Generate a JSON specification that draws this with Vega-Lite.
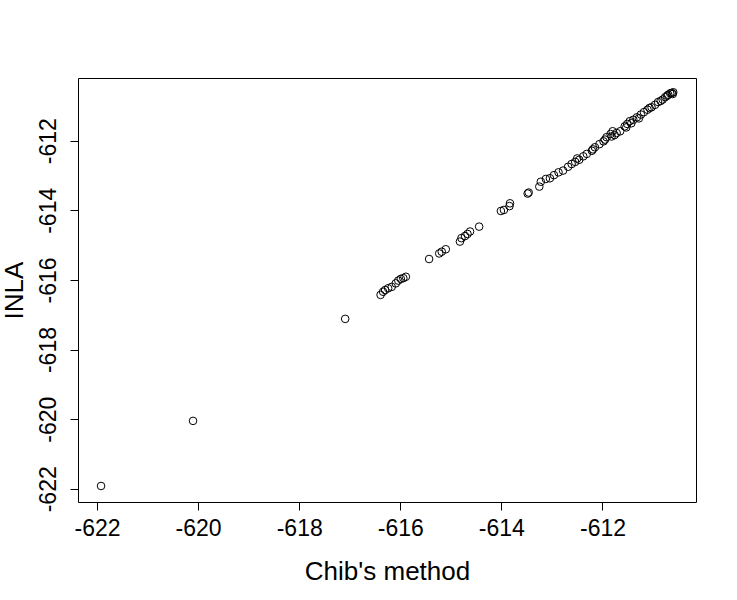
{
  "$schema": "https://vega.github.io/schema/vega-lite/v6.json",
  "width": 618,
  "height": 424,
  "autosize": "none",
  "padding": {"left": 78, "top": 78, "right": 41, "bottom": 98},
  "background": "white",
  "config": {
    "view": {"stroke": "black", "strokeWidth": 1},
    "font": "Liberation Sans",
    "axis": {"grid": false, "domain": false, "tickColor": "black", "tickSize": 8, "labelColor": "black", "titleColor": "black", "labelFont": "Liberation Sans", "titleFont": "Liberation Sans", "titleFontWeight": "normal"}
  },
  "data": {
    "values": [
      {"chib": -621.92, "inla": -621.92},
      {"chib": -620.10, "inla": -620.05},
      {"chib": -617.09, "inla": -617.12},
      {"chib": -616.39, "inla": -616.43},
      {"chib": -616.34, "inla": -616.34},
      {"chib": -616.30, "inla": -616.29},
      {"chib": -616.24, "inla": -616.24},
      {"chib": -616.17, "inla": -616.20},
      {"chib": -616.09, "inla": -616.10},
      {"chib": -616.04, "inla": -616.02},
      {"chib": -615.99, "inla": -615.97},
      {"chib": -615.94, "inla": -615.95},
      {"chib": -615.89, "inla": -615.91},
      {"chib": -615.43, "inla": -615.40},
      {"chib": -615.23, "inla": -615.24},
      {"chib": -615.18, "inla": -615.19},
      {"chib": -615.10, "inla": -615.12},
      {"chib": -614.82, "inla": -614.90},
      {"chib": -614.79, "inla": -614.80},
      {"chib": -614.72, "inla": -614.74},
      {"chib": -614.67, "inla": -614.68},
      {"chib": -614.62, "inla": -614.61},
      {"chib": -614.44, "inla": -614.47},
      {"chib": -614.01, "inla": -614.02},
      {"chib": -613.95, "inla": -613.99},
      {"chib": -613.84, "inla": -613.88},
      {"chib": -613.83, "inla": -613.80},
      {"chib": -613.48, "inla": -613.52},
      {"chib": -613.46, "inla": -613.49},
      {"chib": -613.25, "inla": -613.32},
      {"chib": -613.22, "inla": -613.18},
      {"chib": -613.12, "inla": -613.10},
      {"chib": -613.04, "inla": -613.08},
      {"chib": -612.96, "inla": -612.99},
      {"chib": -612.87, "inla": -612.91},
      {"chib": -612.78, "inla": -612.86},
      {"chib": -612.68, "inla": -612.75},
      {"chib": -612.61, "inla": -612.67},
      {"chib": -612.54, "inla": -612.61},
      {"chib": -612.50, "inla": -612.51},
      {"chib": -612.46, "inla": -612.55},
      {"chib": -612.38, "inla": -612.45},
      {"chib": -612.31, "inla": -612.38},
      {"chib": -612.21, "inla": -612.29},
      {"chib": -612.19, "inla": -612.25},
      {"chib": -612.15, "inla": -612.19},
      {"chib": -612.06, "inla": -612.10},
      {"chib": -611.98, "inla": -612.02},
      {"chib": -611.95, "inla": -611.97},
      {"chib": -611.92, "inla": -611.90},
      {"chib": -611.84, "inla": -611.81},
      {"chib": -611.82, "inla": -611.88},
      {"chib": -611.80, "inla": -611.73},
      {"chib": -611.76, "inla": -611.84},
      {"chib": -611.72, "inla": -611.78},
      {"chib": -611.65, "inla": -611.73},
      {"chib": -611.56, "inla": -611.59},
      {"chib": -611.53, "inla": -611.62},
      {"chib": -611.51, "inla": -611.52},
      {"chib": -611.46, "inla": -611.44},
      {"chib": -611.43, "inla": -611.50},
      {"chib": -611.39, "inla": -611.40},
      {"chib": -611.32, "inla": -611.33},
      {"chib": -611.28, "inla": -611.36},
      {"chib": -611.24, "inla": -611.25},
      {"chib": -611.18, "inla": -611.18},
      {"chib": -611.11, "inla": -611.11},
      {"chib": -611.07, "inla": -611.06},
      {"chib": -611.03, "inla": -611.04},
      {"chib": -610.96, "inla": -610.97},
      {"chib": -610.90, "inla": -610.89},
      {"chib": -610.85, "inla": -610.86},
      {"chib": -610.81, "inla": -610.82},
      {"chib": -610.76, "inla": -610.75},
      {"chib": -610.72, "inla": -610.71},
      {"chib": -610.70, "inla": -610.68},
      {"chib": -610.66, "inla": -610.64},
      {"chib": -610.63, "inla": -610.63},
      {"chib": -610.61, "inla": -610.66},
      {"chib": -610.60, "inla": -610.61}
    ]
  },
  "mark": {"type": "point", "shape": "circle", "filled": false, "stroke": "black", "strokeWidth": 1, "size": 58, "opacity": 1},
  "encoding": {
    "x": {
      "field": "chib", "type": "quantitative", "title": "Chib's method",
      "scale": {"domain": [-622.376, -610.15], "nice": false, "zero": false},
      "axis": {"values": [-622, -620, -618, -616, -614, -612], "labelFontSize": 23, "labelPadding": 7, "titleFontSize": 26, "titlePadding": 18, "labelExpr": "datum.value + ''"}
    },
    "y": {
      "field": "inla", "type": "quantitative", "title": "INLA",
      "scale": {"domain": [-622.38, -610.20], "nice": false, "zero": false},
      "axis": {"values": [-622, -620, -618, -616, -614, -612], "labelFontSize": 23, "labelAngle": -90, "labelAlign": "center", "labelBaseline": "bottom", "labelPadding": 10, "titleFontSize": 26, "titlePadding": 10, "labelExpr": "datum.value + ''"}
    }
  }
}
